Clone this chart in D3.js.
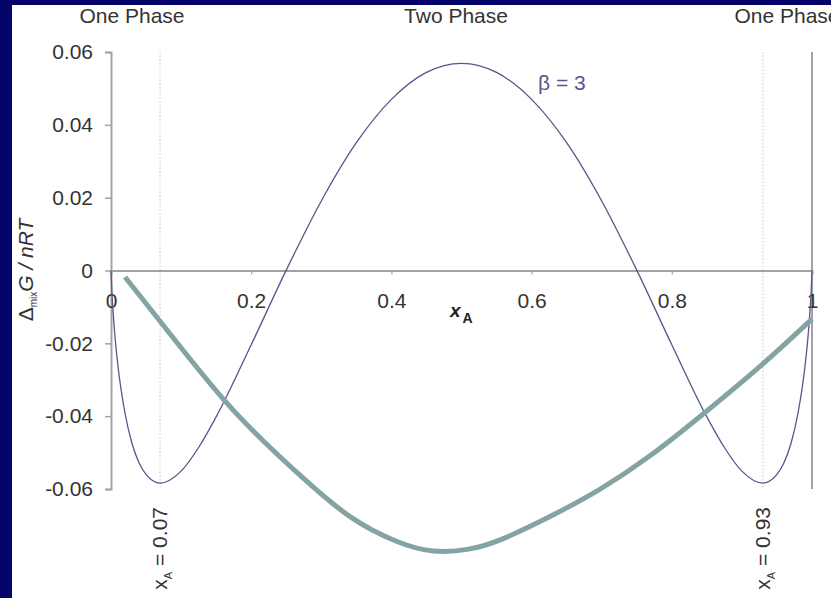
<!DOCTYPE html>
<html>
<head>
<meta charset="utf-8">
<script src="https://cdn.jsdelivr.net/npm/d3@7"></script>
<style>
  html, body { margin: 0; padding: 0; background: #ffffff; }
  svg { display: block; }
  text { font-family: "Liberation Sans", Arial, sans-serif; }
</style>
</head>
<body>
<svg id="chart" width="831" height="598"></svg>
<script>
// Mole fraction of A and the reduced Gibbs energy of mixing for beta = 3
const xA = [0, 0.001, 0.002, 0.005, 0.01, 0.02, 0.03, 0.04, 0.05, 0.07, 0.1, 0.125, 0.15, 0.2, 0.25,
            0.3, 0.35, 0.4, 0.45, 0.5, 0.55, 0.6, 0.65, 0.7, 0.75, 0.8, 0.85, 0.875, 0.9, 0.93,
            0.95, 0.96, 0.97, 0.98, 0.99, 0.995, 0.998, 0.999, 1];
const gMix = [0, -0.0049, -0.0084, -0.0166, -0.0263, -0.0392, -0.0475, -0.0528, -0.0560, -0.0584,
              -0.0551, -0.0486, -0.0402, -0.0204, 0.0001, 0.0191, 0.0351, 0.0470, 0.0544, 0.0569,
              0.0544, 0.0470, 0.0351, 0.0191, 0.0001, -0.0204, -0.0402, -0.0486, -0.0551, -0.0584,
              -0.0560, -0.0528, -0.0475, -0.0392, -0.0263, -0.0166, -0.0084, -0.0049, 0];

// Hand-drawn overlay curve
const overlayX = [0.020, 0.091, 0.163, 0.215, 0.270, 0.341, 0.412, 0.459, 0.512, 0.555, 0.626,
                  0.698, 0.769, 0.845, 0.930, 1.0];
const overlayY = [-0.0018, -0.0191, -0.0364, -0.0465, -0.0564, -0.0685, -0.0751, -0.0776, -0.0768,
                  -0.0743, -0.0677, -0.0603, -0.0512, -0.0394, -0.0259, -0.0133];

// Axes
const xTicks = [0, 0.2, 0.4, 0.6, 0.8, 1];
const xTickLabels = ["0", "0.2", "0.4", "0.6", "0.8", "1"];
const yTicks = [-0.06, -0.04, -0.02, 0, 0.02, 0.04, 0.06];
const yTickLabels = ["-0.06", "-0.04", "-0.02", "0", "0.02", "0.04", "0.06"];

// Phase boundaries and region labels
const boundaries = [0.07, 0.93];
const boundaryLabels = ["0.07", "0.93"];
const phaseLabels = ["One Phase", "Two Phase", "One Phase"];
const phaseLabelX = [132, 456, 787];

const svg = d3.select("#chart");
const x = d3.scaleLinear().domain([0, 1]).range([111, 812]);
const y = d3.scaleLinear().domain([-0.06, 0.06]).range([489, 52]);

const axisColor = "#a3a3a3";
const textColor = "#333333";
const fontSize = "21px";

// Dotted phase boundaries
svg.selectAll("line.boundary").data(boundaries).join("line")
  .attr("class", "boundary")
  .attr("x1", d => x(d)).attr("x2", d => x(d))
  .attr("y1", y(0.06)).attr("y2", y(-0.06))
  .attr("stroke", "#cfcfcf").attr("stroke-width", 1.2)
  .attr("stroke-dasharray", "1.5,2");

// Right-hand frame line at xA = 1
svg.append("line")
  .attr("x1", x(1)).attr("x2", x(1))
  .attr("y1", y(0.06)).attr("y2", y(-0.06))
  .attr("stroke", axisColor).attr("stroke-width", 2);

// Y axis
const yAxis = svg.append("g")
  .attr("transform", `translate(${x(0)},0)`)
  .call(d3.axisLeft(y).tickValues(yTicks).tickSize(6).tickPadding(12)
        .tickFormat((d, i) => yTickLabels[i]));
yAxis.select(".domain").attr("stroke", axisColor).attr("stroke-width", 2);
yAxis.selectAll(".tick line").attr("stroke", axisColor).attr("stroke-width", 1.5);
yAxis.selectAll(".tick text")
  .attr("fill", textColor).style("font-size", fontSize)
  .attr("font-family", "Liberation Sans, Arial, sans-serif");

// X axis along zero
const xAxis = svg.append("g")
  .attr("transform", `translate(0,${y(0)})`)
  .call(d3.axisBottom(x).tickValues(xTicks).tickSize(4).tickPadding(19)
        .tickFormat((d, i) => xTickLabels[i]));
xAxis.select(".domain").attr("stroke", axisColor).attr("stroke-width", 2);
xAxis.selectAll(".tick line").attr("stroke", axisColor).attr("stroke-width", 1.2);
xAxis.selectAll(".tick text")
  .attr("fill", textColor).style("font-size", fontSize)
  .attr("font-family", "Liberation Sans, Arial, sans-serif");

// x_A axis label
const xLab = svg.append("text")
  .attr("x", 450).attr("y", 317)
  .attr("fill", "#222").style("font-weight", "bold").style("font-size", "19px");
xLab.append("tspan").style("font-style", "italic").text("x");
xLab.append("tspan").attr("dx", 2).attr("dy", 6).style("font-size", "14px").text("A");

// Gibbs energy of mixing curve
const line = d3.line().x(d => x(d[0])).y(d => y(d[1])).curve(d3.curveMonotoneX);
svg.append("path")
  .datum(xA.map((v, i) => [v, gMix[i]]))
  .attr("d", line)
  .attr("fill", "none").attr("stroke", "#56568a").attr("stroke-width", 1.3);

// Overlay curve
const overlayLine = d3.line().x(d => x(d[0])).y(d => y(d[1])).curve(d3.curveBasis);
svg.append("path")
  .datum(overlayX.map((v, i) => [v, overlayY[i]]))
  .attr("d", overlayLine)
  .attr("fill", "none").attr("stroke", "#84a4a4").attr("stroke-width", 5)
  .attr("stroke-linecap", "butt").attr("stroke-linejoin", "round");

// beta label
svg.append("text")
  .attr("x", 538).attr("y", 90)
  .attr("fill", "#56568c").style("font-size", fontSize)
  .text("β = 3");

// Phase region labels (the right one runs past the page edge)
svg.selectAll("text.phase").data(phaseLabels).join("text")
  .attr("class", "phase")
  .attr("x", (d, i) => phaseLabelX[i]).attr("y", 23)
  .attr("text-anchor", "middle")
  .attr("fill", textColor).style("font-size", fontSize)
  .text(d => d);

// Boundary composition labels, reading upward
boundaries.forEach((b, i) => {
  const t = svg.append("text")
    .attr("transform", `translate(${x(b) + 7},507) rotate(-90)`)
    .attr("text-anchor", "end")
    .attr("fill", textColor).style("font-size", fontSize);
  t.append("tspan").text("x");
  t.append("tspan").attr("dy", 5).style("font-size", "11px").text("A");
  t.append("tspan").attr("dy", -5).text(" = " + boundaryLabels[i]);
});

// Y axis title
const yLab = svg.append("text")
  .attr("transform", "translate(33,270) rotate(-90)")
  .attr("text-anchor", "middle")
  .attr("fill", textColor).style("font-size", fontSize);
yLab.append("tspan").text("Δ");
yLab.append("tspan").attr("dy", 4).style("font-size", "10px").text("mix");
yLab.append("tspan").attr("dy", -4).style("font-style", "italic").text("G / nRT");

// Dark slide border
svg.append("rect").attr("x", 0).attr("y", 0).attr("width", 831).attr("height", 5).attr("fill", "#04046a");
svg.append("rect").attr("x", 0).attr("y", 0).attr("width", 12).attr("height", 598).attr("fill", "#04046a");
</script>
</body>
</html>
